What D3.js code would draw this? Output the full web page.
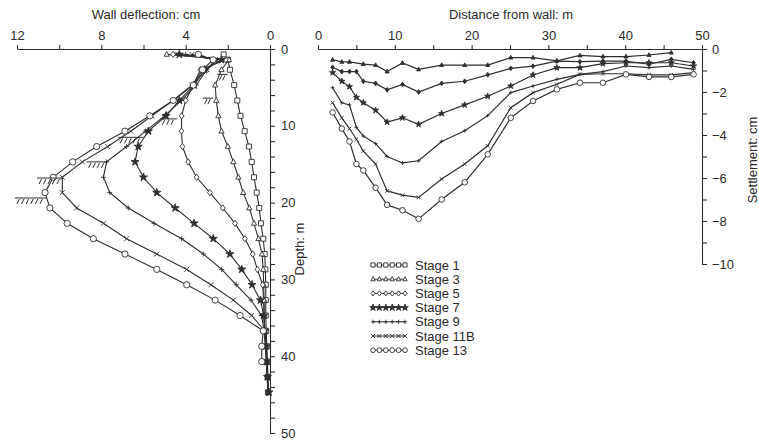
<!DOCTYPE html>
<html><head><meta charset="utf-8">
<script src="https://cdn.jsdelivr.net/npm/d3@7"></script>
<style>
body{margin:0;background:#fff}
svg{display:block}
text{font-family:"Liberation Sans",Arial,sans-serif;fill:#2a2a2a}
</style>
</head><body>
<svg id="chart" width="759" height="441"></svg>
<script>
// ---------- DATA ----------
const stages  = ["Stage 1","Stage 3","Stage 5","Stage 7","Stage 9","Stage 11B","Stage 13"];
const markers = ["square","triangle","diamond","star","plus","cross","circle"];

// Left panel: wall deflection (cm) against depth (m)
const depth = [0.7, 1.4, 2.7, 4.7, 6.7, 8.7, 10.7, 12.7, 14.7, 16.7, 18.7, 20.7, 22.7, 24.7, 26.7, 28.7, 30.7, 32.7, 34.7, 36.7, 38.7, 40.7, 42.7, 44.7];
const defl1   = [2.2, 2.0, 1.9, 1.7, 1.55, 1.4, 1.2, 1.0, 0.87, 0.76, 0.63, 0.51, 0.43, 0.32, 0.25, 0.22, 0.2, 0.2, 0.2, 0.18, 0.15, 0.12, 0.1, 0.08];
const defl3   = [4.9, 1.95, 2.3, 2.6, 2.55, 2.45, 2.3, 2.0, 1.74, 1.5, 1.27, 0.98, 0.76, 0.55, 0.38, 0.32, 0.3, 0.28, 0.28, 0.25, 0.2, 0.15, 0.12, 0.1];
const defl5   = [4.6, 2.1, 3.3, 3.64, 4.0, 4.19, 4.2, 4.15, 3.88, 3.48, 2.85, 2.24, 1.66, 1.19, 0.82, 0.6, 0.35, 0.3, 0.28, 0.25, 0.2, 0.15, 0.12, 0.1];
const defl7   = [4.3, 2.3, 3.1, 3.6, 4.3, 4.93, 5.77, 6.25, 6.4, 6.0, 5.37, 4.5, 3.6, 2.69, 1.9, 1.34, 0.85, 0.45, 0.3, 0.25, 0.2, 0.15, 0.12, 0.05];
const defl9   = [4.0, 2.5, 3.0, 3.5, 4.2, 5.0, 5.9, 6.8, 7.75, 7.9, 7.6, 6.72, 5.5, 4.19, 3.16, 2.29, 1.6, 0.9, 0.4, 0.28, 0.22, 0.18, 0.14, 0.1];
const defl11B = [3.7, 2.6, 3.0, 3.7, 4.6, 5.6, 6.6, 7.7, 8.9, 9.85, 9.85, 9.17, 7.9, 6.8, 5.37, 3.95, 2.8, 1.74, 0.87, 0.25, 0.2, 0.15, 0.12, 0.1];
const defl13  = [3.4, 2.7, 3.2, 3.64, 4.59, 5.7, 6.88, 8.22, 9.36, 10.28, 10.67, 10.44, 9.62, 8.38, 6.88, 5.37, 3.95, 2.6, 1.42, 0.32, 0.39, 0.39, null, null];

// Excavation levels (hatch symbols): depth, left and right deflection ends
const excavDepth = [3.3, 6.4, 9.1, 11.5, 14.7, 16.8, 19.4];
const excavFrom  = [2.5, 3.2, 5.2, 7.2, 8.7, 11.05, 12.1];
const excavTo    = [2.0, 2.7, 4.4, 6.0, 7.7, 9.8, 10.6];

// Right panel: ground settlement (cm) against distance from wall (m)
const distance  = [1.9, 3.1, 4.1, 5.0, 5.9, 7.5, 9.0, 11.0, 13.1, 16.1, 19.1, 22.1, 25.1, 28.0, 31.1, 34.1, 37.1, 40.1, 43.1, 46.0, 48.9];
const settle3   = [-0.5, -0.6, -0.6, null, -0.7, -0.75, -1.05, -0.65, -0.95, -0.75, -0.75, -0.75, -0.4, -0.4, -0.55, -0.3, -0.35, -0.35, -0.28, -0.17, null];
const settle5   = [-0.85, -1.05, -1.05, -1.05, -1.5, -1.6, -1.9, -1.65, -2.0, -1.6, -1.5, -1.2, -0.9, -0.8, -0.56, -0.59, -0.56, -0.56, -0.71, -0.48, -0.64];
const settle7   = [-1.1, -1.5, -1.75, -2.25, -2.5, -2.85, -3.4, -3.2, -3.5, -3.0, -2.6, -2.2, -1.72, -1.21, -0.87, -0.87, -0.68, -0.64, -0.64, -0.64, -0.79];
const settle9   = [-1.8, -2.5, -2.6, -3.65, -4.05, -4.4, -5.0, -5.3, -5.2, -4.3, -3.8, -3.1, -2.03, -1.72, -1.41, -1.18, -1.05, -0.79, -0.87, -0.79, -0.95];
const settle11B = [-2.5, -3.2, -3.7, -4.2, -4.75, -5.35, -6.6, -6.8, -6.9, -6.05, -5.35, -4.5, -2.73, -2.03, -1.64, -1.18, -1.15, -1.15, -1.2, -1.2, -1.1];
const settle13  = [-2.95, -3.7, -4.3, -5.35, -5.65, -6.45, -7.25, -7.5, -7.9, -7.0, -6.2, -4.9, -3.2, -2.42, -1.88, -1.57, -1.57, -1.18, -1.3, -1.3, -1.18];

// Tick values
const deflTicks   = [12, 10, 8, 6, 4, 2, 0];
const deflLabels  = [12, 8, 4, 0];
const depthTicks  = d3.range(0, 51, 2);
const depthLabels = [0, 10, 20, 30, 40, 50];
const distTicks   = d3.range(0, 51, 5);
const distLabels  = [0, 10, 20, 30, 40, 50];
const setTicks    = d3.range(0, -11, -1);
const setLabels   = [0, -2, -4, -6, -8, -10];

// ---------- DRAWING ----------
const svg = d3.select("#chart");
const ink = "#2f2f2f";

const xDefl  = d3.scaleLinear().domain([12, 0]).range([17, 270]);
const yDepth = d3.scaleLinear().domain([0, 50]).range([49, 433]);
const xDist  = d3.scaleLinear().domain([0, 50]).range([318, 702]);
const ySet   = d3.scaleLinear().domain([0, -10]).range([49, 264]);

function markerPath(type, r) {
  switch (type) {
    case "square":   return `M${-r},${-r}h${2*r}v${2*r}h${-2*r}Z`;
    case "triangle": return `M0,${-r*1.2}L${r*1.05},${r*0.75}L${-r*1.05},${r*0.75}Z`;
    case "diamond":  return `M0,${-r*1.25}L${r*0.95},0L0,${r*1.25}L${-r*0.95},0Z`;
    case "star":     return d3.symbol(d3.symbolStar, r*r*3.2)();
    case "plus":     return `M${-r},0H${r}M0,${-r}V${r}`;
    case "cross":    return `M${-r},${-r}L${r},${r}M${-r},${r}L${r},${-r}`;
    case "circle":   return `M${r},0A${r},${r} 0 1,1 ${-r},0A${r},${r} 0 1,1 ${r},0Z`;
  }
}
function markerFill(type, solid) {
  if (type === "plus" || type === "cross") return "none";
  if (type === "star") return ink;
  return solid ? ink : "#fff";
}
function markerR(type, base) {
  return type === "circle" ? base * 1.25 : base;
}

const fontSize = 13;

// ----- Left panel axes -----
const gDeflAxis = svg.append("g").attr("transform", "translate(0,49)")
  .call(d3.axisTop(xDefl).tickValues(deflTicks)
    .tickFormat(d => deflLabels.includes(d) ? d : "")
    .tickSize(4).tickSizeOuter(0).tickPadding(5));
const gDepthAxis = svg.append("g").attr("transform", "translate(270,0)")
  .call(d3.axisRight(yDepth).tickValues(depthTicks)
    .tickFormat(d => depthLabels.includes(d) ? d : "")
    .tickSize(5).tickSizeOuter(5).tickPadding(6));

// ----- Right panel axes -----
const gDistAxis = svg.append("g").attr("transform", "translate(0,49)")
  .call(d3.axisTop(xDist).tickValues(distTicks)
    .tickFormat(d => distLabels.includes(d) ? d : "")
    .tickSize(4).tickSizeOuter(0).tickPadding(5));
const gSetAxis = svg.append("g").attr("transform", "translate(702,0)")
  .call(d3.axisRight(ySet).tickValues(setTicks)
    .tickFormat(d => setLabels.includes(d) ? (d === 0 ? "0" : "\u2212" + Math.abs(d)) : "")
    .tickSize(5).tickSizeOuter(5).tickPadding(5));

[gDeflAxis, gDepthAxis, gDistAxis, gSetAxis].forEach(g => {
  g.selectAll("path,line").attr("stroke", ink).attr("stroke-width", 1.1);
  g.selectAll("text").attr("font-size", fontSize).attr("fill", "#2a2a2a")
    .style("font-family", '"Liberation Sans",Arial,sans-serif');
});

// Axis titles
svg.append("text").attr("x", 146).attr("y", 19).attr("text-anchor", "middle")
  .attr("font-size", fontSize).text("Wall deflection: cm");
svg.append("text").attr("x", 511).attr("y", 19).attr("text-anchor", "middle")
  .attr("font-size", fontSize).text("Distance from wall: m");
svg.append("text").attr("transform", "translate(304,249) rotate(-90)")
  .attr("text-anchor", "middle").attr("font-size", fontSize).text("Depth: m");
svg.append("text").attr("transform", "translate(757,160) rotate(-90)")
  .attr("text-anchor", "middle").attr("font-size", fontSize).text("Settlement: cm");

// ----- Left panel curves -----
const deflSeries = [defl1, defl3, defl5, defl7, defl9, defl11B, defl13];
const deflLine = d3.line()
  .defined(d => d.v != null)
  .x(d => xDefl(d.v)).y(d => yDepth(d.z));

deflSeries.forEach((arr, i) => {
  const pts = depth.map((z, k) => ({z, v: arr[k]}));
  const g = svg.append("g");
  g.append("path").datum(pts).attr("d", deflLine)
    .attr("fill", "none").attr("stroke", ink).attr("stroke-width", 1.1);
  const t = markers[i];
  g.selectAll("path.m").data(pts.filter(d => d.v != null)).join("path")
    .attr("class", "m")
    .attr("transform", d => `translate(${xDefl(d.v)},${yDepth(d.z)})`)
    .attr("d", markerPath(t, markerR(t, 2.5)))
    .attr("fill", markerFill(t, false)).attr("stroke", ink).attr("stroke-width", 0.9);
});

// Excavation level hatch symbols
excavDepth.forEach((z, i) => {
  const y = yDepth(z), x1 = xDefl(excavFrom[i]), x2 = xDefl(excavTo[i]);
  const g = svg.append("g").attr("stroke", ink).attr("stroke-width", 1);
  g.append("line").attr("x1", x1).attr("x2", x2).attr("y1", y).attr("y2", y);
  const n = Math.max(2, Math.floor((x2 - x1) / 5));
  d3.range(n).forEach(k => {
    const hx = x1 + 3 + k * ((x2 - x1 - 4) / n);
    g.append("line").attr("x1", hx + 1.5).attr("y1", y + 1)
      .attr("x2", hx - 1).attr("y2", y + 6);
  });
});

// ----- Right panel curves -----
const setSeries = [null, settle3, settle5, settle7, settle9, settle11B, settle13];
const setLine = d3.line()
  .defined(d => d.v != null)
  .x(d => xDist(d.d)).y(d => ySet(d.v));

setSeries.forEach((arr, i) => {
  if (!arr) return;
  const pts = distance.map((d, k) => ({d, v: arr[k]})).filter(p => p.v != null);
  const g = svg.append("g");
  g.append("path").datum(pts).attr("d", setLine)
    .attr("fill", "none").attr("stroke", ink).attr("stroke-width", 1.2);
  const t = markers[i];
  g.selectAll("path.m").data(pts).join("path")
    .attr("class", "m")
    .attr("transform", d => `translate(${xDist(d.d)},${ySet(d.v)})`)
    .attr("d", markerPath(t, t === "circle" ? 2.8 : 1.9))
    .attr("fill", t === "circle" ? "#fff" : markerFill(t, true))
    .attr("stroke", ink).attr("stroke-width", 0.9);
});

// ----- Legend -----
const legX0 = 373, legX1 = 405, legTextX = 415, legY0 = 265, legDy = 14.2;
const legend = svg.append("g");
stages.forEach((s, i) => {
  const y = legY0 + i * legDy;
  const g = legend.append("g");
  g.append("line").attr("x1", legX0).attr("x2", legX1).attr("y1", y).attr("y2", y)
    .attr("stroke", ink).attr("stroke-width", 1);
  const t = markers[i];
  d3.range(6).forEach(k => {
    const mx = legX0 + k * (legX1 - legX0) / 5;
    g.append("path").attr("transform", `translate(${mx},${y})`)
      .attr("d", markerPath(t, t === "circle" ? 2.4 : 2.1))
      .attr("fill", markerFill(t, false)).attr("stroke", ink).attr("stroke-width", 0.9);
  });
  g.append("text").attr("x", legTextX).attr("y", y).attr("dy", "0.36em")
    .attr("font-size", fontSize).text(s);
});
</script>
</body></html>
